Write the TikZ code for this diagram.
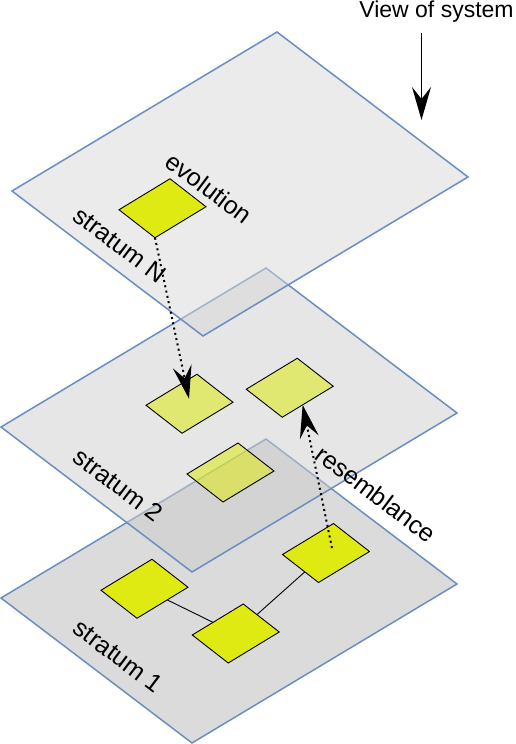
\documentclass[tikz,border=0pt]{standalone}
\usepackage{fontspec}
\setmainfont{Liberation Sans}
\usetikzlibrary{arrows.meta,calc}
\definecolor{edgeblue}{HTML}{6C8EBF}
\definecolor{yel}{HTML}{DEEA12}
\definecolor{bottomgray}{RGB}{219,219,219}
\definecolor{midgray}{RGB}{205,205,205}
\definecolor{topgray}{RGB}{215,215,215}
\newcommand\isosq[4]{%
  \coordinate (#1) at (#2,#3);
  \path[#4] ($(#1)+(7.5,-29.5)$) coordinate (#1-t)
    -- ($(#1)+(43.5,-1.5)$) coordinate (#1-r)
    -- ($(#1)+(-7.5,29.5)$) coordinate (#1-b)
    -- ($(#1)+(-43.5,1.5)$) coordinate (#1-l) -- cycle;}
\begin{document}
\begin{tikzpicture}[x=1pt,y=-1pt,
  plane/.style={draw=edgeblue,line width=1.5pt,line join=miter},
  sqbox/.style={draw=black,line width=0.9pt,fill=yel},
  link/.style={draw=black,line width=0.9pt},
  bigtip/.style={-{Stealth[length=33pt,width=19pt,inset=12pt]}},
  dotarrow/.style={bigtip,line width=2pt,dash pattern=on 2pt off 3.4pt},
  lbl/.style={font=\fontsize{23}{27}\selectfont,inner sep=0pt},
  rlbl/.style={font=\fontsize{25}{29}\selectfont,inner sep=0pt,rotate=-37}]
\useasboundingbox (0,0) rectangle (516,744);

% stratum 1 (bottom plane)
\path[plane,fill=bottomgray] (266,439) -- (457,584) -- (192,743) -- (1,598) -- cycle;
\coordinate (D) at (144.5,588.75);
\coordinate (E) at (235.75,633.5);
\coordinate (F) at (326,553);
\draw[link] (D) -- (E);
\draw[link] (E) -- (F);
\isosq{D}{144.5}{588.75}{sqbox}
\isosq{E}{235.75}{633.5}{sqbox}
\isosq{F}{326}{553}{sqbox}

% stratum 2 (middle plane)
\path[plane,fill=midgray,fill opacity=0.5] (266,268) -- (457,413) -- (192,572) -- (1,427) -- cycle;
\isosq{A}{189.5}{403.75}{sqbox,fill opacity=0.55}
\isosq{B}{289.75}{387.75}{sqbox,fill opacity=0.55}
\isosq{C}{230.5}{472.5}{sqbox,fill opacity=0.55}

% stratum N (top plane)
\path[plane,fill=topgray,fill opacity=0.5] (277,32) -- (468,177) -- (203,336) -- (12,191) -- cycle;
\isosq{N}{162.5}{208.25}{sqbox}

% connectors
\coordinate (A-in) at ($(A)+(-0.5,-5)$);
\draw[dotarrow] (N-b) -- (A-in);
\coordinate (F-in) at ($(F)+(6,-5)$);
\coordinate (B-edge) at ($(B-b)!0.4!(B-r)$);
\draw[dotarrow] (F-in) -- (B-edge);

% labels
\node[rlbl] (evo) at (209,188) {evolution};
\node[rlbl] (sN) at (120,245) {stratum N};
\node[rlbl] (s2) at (118.5,485) {stratum 2};
\node[rlbl] (s1) at (118.5,656) {stratum 1};
\node[rlbl] (res) at (376,494) {resemblance};
\node[lbl,anchor=base] (view) at (436.5,17) {View of system};

% view arrow
\coordinate (vs) at (421.5,33);
\coordinate (ve) at (421.5,120);
\draw[bigtip,line width=1.8pt] (vs) -- (ve);
\end{tikzpicture}
\end{document}
